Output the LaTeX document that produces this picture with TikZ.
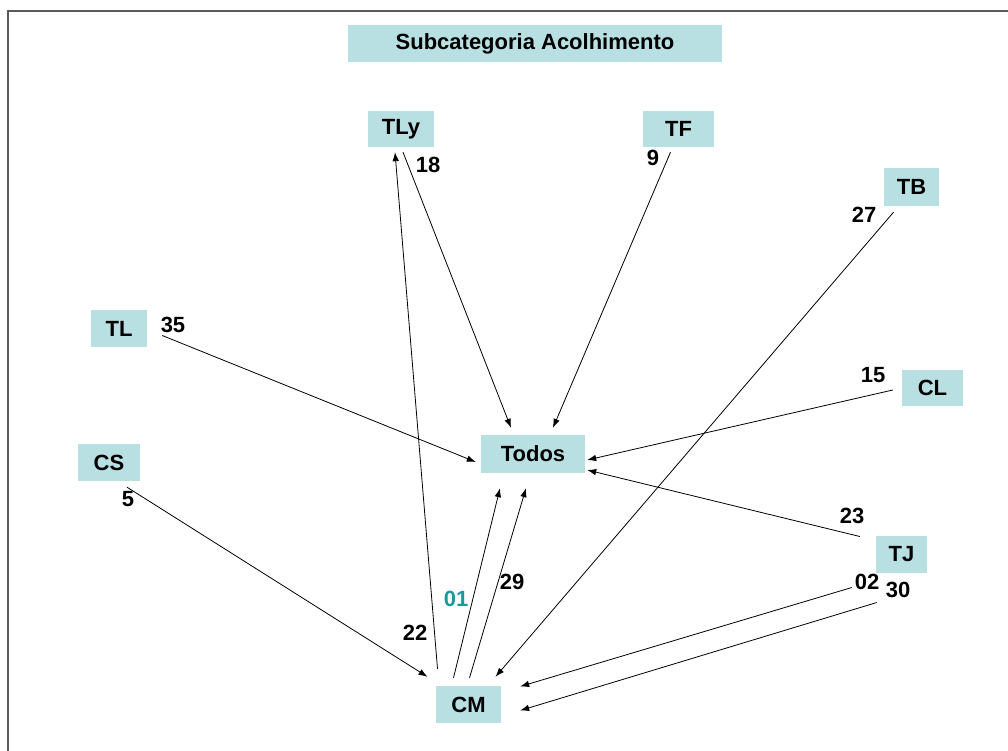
\documentclass[tikz,border=0pt]{standalone}
\usepackage{fontspec}
\setmainfont{Liberation Sans}
\usetikzlibrary{arrows.meta,calc}
\definecolor{boxfill}{HTML}{B8E0E3}
\definecolor{tealnum}{HTML}{1A9A9A}
\definecolor{framegray}{HTML}{5A5A5A}
\begin{document}
\begin{tikzpicture}[x=1pt,y=-1pt,
  catbox/.style={fill=boxfill,draw=none,inner sep=0pt,
    font=\fontsize{22}{26}\selectfont\bfseries},
  num/.style={inner sep=0pt,font=\fontsize{22}{26}\selectfont\bfseries},
  link/.style={draw=black,line width=0.8pt,-{Latex[length=9pt,width=6.5pt]}}]
\useasboundingbox (0,0) rectangle (1008,751);
% frame lines
\draw[framegray,line width=1.5pt] (8,751) -- (8,11) -- (1008,11);

% category boxes
\node[catbox,minimum width=374pt,minimum height=37pt] (title) at (535,43.5) {Subcategoria Acolhimento};
\node[catbox,minimum width=66pt,minimum height=36pt] (tly) at (401,129) {TLy};
\node[catbox,minimum width=71pt,minimum height=36pt] (tf) at (678.5,129) {TF};
\node[catbox,minimum width=55pt,minimum height=38pt] (tb) at (911.5,187) {TB};
\node[catbox,minimum width=56pt,minimum height=37pt] (tl) at (119,328.5) {TL};
\node[catbox,minimum width=61pt,minimum height=36pt] (cl) at (932.5,388) {CL};
\node[catbox,minimum width=62pt,minimum height=37pt] (cs) at (109,462.5) {CS};
\node[catbox,minimum width=104pt,minimum height=38pt] (todos) at (533,454) {Todos};
\node[catbox,minimum width=51pt,minimum height=37pt] (tj) at (901.5,554.5) {TJ};
\node[catbox,minimum width=65pt,minimum height=37pt] (cm) at (468.5,704.5) {CM};

% connectors
\draw[link] ($(tl.east)+(15,7)$) -- ($(todos.west)+(-5,8)$);
\draw[link] ($(tly.south)+(2,5)$) -- ($(todos.north)+(-22,-7)$);
\draw[link] ($(cm.north)+(-31,-17)$) -- ($(tly.south)+(-6,5)$);
\draw[link] ($(tf.south)+(-8,5)$) -- ($(todos.north)+(20,-7)$);
\draw[link] ($(tb.south)+(-18,6)$) -- ($(cm.north)+(27,-9)$);
\draw[link] ($(cl.west)+(-9,2)$) -- ($(todos.east)+(2,6)$);
\draw[link] ($(tj.west)+(-16,-18)$) -- ($(todos.east)+(2,16)$);
\draw[link] ($(cs.south)+(18,6)$) -- ($(cm.north)+(-41,-9)$);
\draw[link] ($(cm.north)+(-15,-8)$) -- ($(todos.south)+(-33,15)$);
\draw[link] ($(cm.north)+(1,-8)$) -- ($(todos.south)+(-7,15)$);
\draw[link] ($(tj.west)+(-24,33)$) -- ($(cm.east)+(19,-18)$);
\draw[link] ($(tj.west)+(1,48)$) -- ($(cm.east)+(19,6)$);

% counts
\node[num] (n18) at (428,165) {18};
\node[num] (n9) at (653,158) {9};
\node[num] (n27) at (864,215) {27};
\node[num] (n35) at (173,325) {35};
\node[num] (n15) at (873,375) {15};
\node[num] (n5) at (128,499) {5};
\node[num] (n23) at (852,516) {23};
\node[num] (n22) at (415,633) {22};
\node[num,text=tealnum] (n01) at (456,599) {01};
\node[num] (n29) at (512,582) {29};
\node[num] (n02) at (867,582) {02};
\node[num] (n30) at (898,590) {30};
\end{tikzpicture}
\end{document}
